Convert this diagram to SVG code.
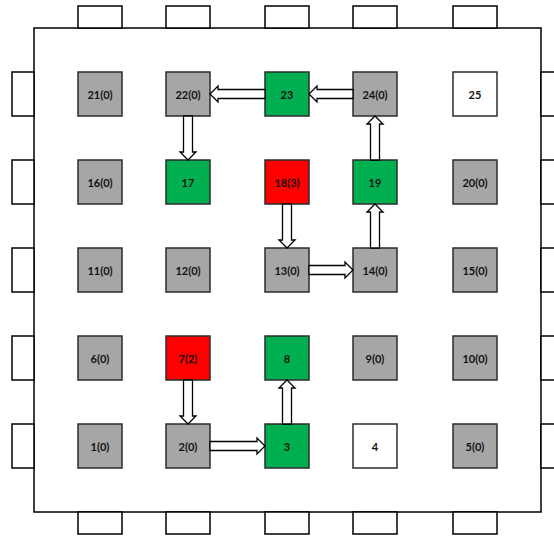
<svg xmlns="http://www.w3.org/2000/svg" width="554" height="536" viewBox="0 0 554 536">
  <style>
    .frame { fill: #ffffff; stroke: #000000; stroke-width: 1.5; }
    .tab { fill: #ffffff; stroke: #000000; stroke-width: 1.5; }
    .cell { stroke: #2b2b2b; stroke-width: 1.5; }
    .gray { fill: #a6a6a6; }
    .green { fill: #00b050; }
    .red { fill: #ff0000; }
    .white { fill: #ffffff; }
    .lbl { font-family: Lato, "Liberation Sans", Arial, sans-serif; font-size: 11px; font-weight: bold; fill: #111111; text-anchor: middle; dominant-baseline: central; }
    .arrow { fill: #ffffff; stroke: #000000; stroke-width: 1.3; stroke-linejoin: miter; }
  </style>

  <rect width="554" height="536" fill="#ffffff"/>

  <!-- outer board -->
  <rect class="frame" x="34" y="28" width="507" height="484"/>

  <!-- edge tabs -->
  <g id="tabs">
    <rect class="tab" x="78" y="6" width="44" height="22"/>
    <rect class="tab" x="166" y="6" width="44" height="22"/>
    <rect class="tab" x="265" y="6" width="44" height="22"/>
    <rect class="tab" x="353" y="6" width="44" height="22"/>
    <rect class="tab" x="453" y="6" width="44" height="22"/>

    <rect class="tab" x="78" y="512" width="44" height="22"/>
    <rect class="tab" x="166" y="512" width="44" height="22"/>
    <rect class="tab" x="265" y="512" width="44" height="22"/>
    <rect class="tab" x="353" y="512" width="44" height="22"/>
    <rect class="tab" x="453" y="512" width="44" height="22"/>

    <rect class="tab" x="12" y="72" width="22" height="44"/>
    <rect class="tab" x="12" y="160" width="22" height="44"/>
    <rect class="tab" x="12" y="248" width="22" height="44"/>
    <rect class="tab" x="12" y="336" width="22" height="44"/>
    <rect class="tab" x="12" y="424" width="22" height="44"/>

    <rect class="tab" x="541" y="72" width="22" height="44"/>
    <rect class="tab" x="541" y="160" width="22" height="44"/>
    <rect class="tab" x="541" y="248" width="22" height="44"/>
    <rect class="tab" x="541" y="336" width="22" height="44"/>
    <rect class="tab" x="541" y="424" width="22" height="44"/>
  </g>

  <!-- row 1 (top) -->
  <g id="n21"><rect class="cell gray" x="78" y="72" width="44" height="44"/><text class="lbl" x="100" y="94">21(0)</text></g>
  <g id="n22"><rect class="cell gray" x="166" y="72" width="44" height="44"/><text class="lbl" x="188" y="94">22(0)</text></g>
  <g id="n23"><rect class="cell green" x="265" y="72" width="44" height="44"/><text class="lbl" x="287" y="94">23</text></g>
  <g id="n24"><rect class="cell gray" x="353" y="72" width="44" height="44"/><text class="lbl" x="375" y="94">24(0)</text></g>
  <g id="n25"><rect class="cell white" x="453" y="72" width="44" height="44"/><text class="lbl" x="475" y="94">25</text></g>

  <!-- row 2 -->
  <g id="n16"><rect class="cell gray" x="78" y="160" width="44" height="44"/><text class="lbl" x="100" y="182">16(0)</text></g>
  <g id="n17"><rect class="cell green" x="166" y="160" width="44" height="44"/><text class="lbl" x="188" y="182">17</text></g>
  <g id="n18"><rect class="cell red" x="265" y="160" width="44" height="44"/><text class="lbl" x="287" y="182">18(3)</text></g>
  <g id="n19"><rect class="cell green" x="353" y="160" width="44" height="44"/><text class="lbl" x="375" y="182">19</text></g>
  <g id="n20"><rect class="cell gray" x="453" y="160" width="44" height="44"/><text class="lbl" x="475" y="182">20(0)</text></g>

  <!-- row 3 -->
  <g id="n11"><rect class="cell gray" x="78" y="248" width="44" height="44"/><text class="lbl" x="100" y="270">11(0)</text></g>
  <g id="n12"><rect class="cell gray" x="166" y="248" width="44" height="44"/><text class="lbl" x="188" y="270">12(0)</text></g>
  <g id="n13"><rect class="cell gray" x="265" y="248" width="44" height="44"/><text class="lbl" x="287" y="270">13(0)</text></g>
  <g id="n14"><rect class="cell gray" x="353" y="248" width="44" height="44"/><text class="lbl" x="375" y="270">14(0)</text></g>
  <g id="n15"><rect class="cell gray" x="453" y="248" width="44" height="44"/><text class="lbl" x="475" y="270">15(0)</text></g>

  <!-- row 4 -->
  <g id="n6"><rect class="cell gray" x="78" y="336" width="44" height="44"/><text class="lbl" x="100" y="358">6(0)</text></g>
  <g id="n7"><rect class="cell red" x="166" y="336" width="44" height="44"/><text class="lbl" x="188" y="358">7(2)</text></g>
  <g id="n8"><rect class="cell green" x="265" y="336" width="44" height="44"/><text class="lbl" x="287" y="358">8</text></g>
  <g id="n9"><rect class="cell gray" x="353" y="336" width="44" height="44"/><text class="lbl" x="375" y="358">9(0)</text></g>
  <g id="n10"><rect class="cell gray" x="453" y="336" width="44" height="44"/><text class="lbl" x="475" y="358">10(0)</text></g>

  <!-- row 5 (bottom) -->
  <g id="n1"><rect class="cell gray" x="78" y="424" width="44" height="44"/><text class="lbl" x="100" y="446">1(0)</text></g>
  <g id="n2"><rect class="cell gray" x="166" y="424" width="44" height="44"/><text class="lbl" x="188" y="446">2(0)</text></g>
  <g id="n3"><rect class="cell green" x="265" y="424" width="44" height="44"/><text class="lbl" x="287" y="446">3</text></g>
  <g id="n4"><rect class="cell white" x="353" y="424" width="44" height="44"/><text class="lbl" x="375" y="446">4</text></g>
  <g id="n5"><rect class="cell gray" x="453" y="424" width="44" height="44"/><text class="lbl" x="475" y="446">5(0)</text></g>

  <!-- block arrows between cells -->
  <g id="connectors">
    <polygon class="arrow" points="265,89.5 218,89.5 218,86 210,94 218,102 218,98.5 265,98.5"/>
    <polygon class="arrow" points="353,89.5 317,89.5 317,86 309,94 317,102 317,98.5 353,98.5"/>
    <polygon class="arrow" points="183.5,116 183.5,152 180,152 188,160 196,152 192.5,152 192.5,116"/>
    <polygon class="arrow" points="282.5,204 282.5,240 279,240 287,248 295,240 291.5,240 291.5,204"/>
    <polygon class="arrow" points="309,265.5 345,265.5 345,262 353,270 345,278 345,274.5 309,274.5"/>
    <polygon class="arrow" points="370.5,248 370.5,212 367,212 375,204 383,212 379.5,212 379.5,248"/>
    <polygon class="arrow" points="370.5,160 370.5,124 367,124 375,116 383,124 379.5,124 379.5,160"/>
    <polygon class="arrow" points="183.5,380 183.5,416 180,416 188,424 196,416 192.5,416 192.5,380"/>
    <polygon class="arrow" points="210,441.5 257,441.5 257,438 265,446 257,454 257,450.5 210,450.5"/>
    <polygon class="arrow" points="282.5,424 282.5,388 279,388 287,380 295,388 291.5,388 291.5,424"/>
  </g>
</svg>
